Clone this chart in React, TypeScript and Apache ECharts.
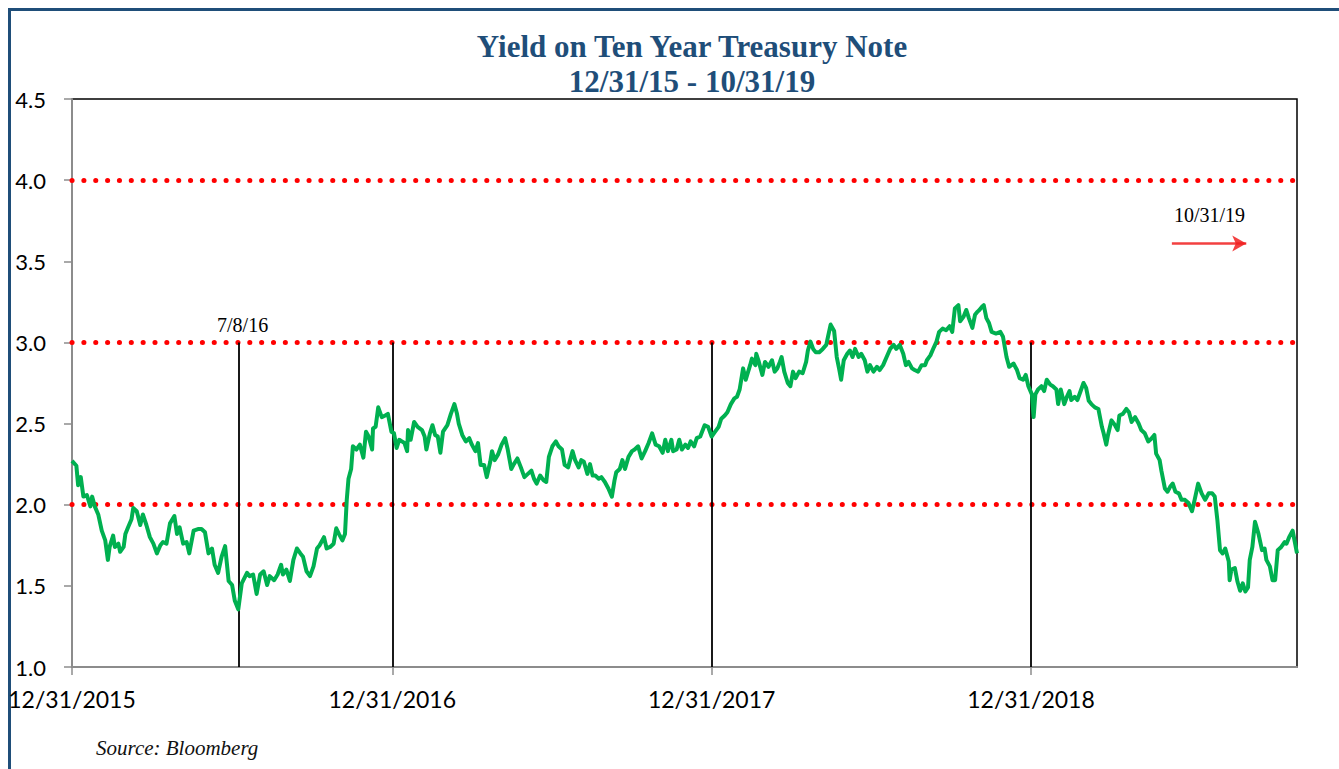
import React, { useEffect, useRef } from "react";
import * as echarts from "echarts";

const TITLE_LINE1 = "Yield on Ten Year Treasury Note";
const TITLE_LINE2 = "12/31/15 - 10/31/19";
const SOURCE = "Source: Bloomberg";

// x values are days since 12/31/2015
const X_MAX_DAY = 1400; // 10/31/2019
const xTickDays = [0, 366, 731, 1096];
const xTickLabels = ["12/31/2015", "12/31/2016", "12/31/2017", "12/31/2018"];
const refLevels = [2.0, 3.0, 4.0];
const markerDays = [190, 366, 731, 1096];
const annotations = [
  { label: "7/8/16", day: 195, value: 3.11 },
  { label: "10/31/19", day: 1300, value: 3.785 },
];
const arrowFrom = [1257, 3.61];
const arrowTo = [1342, 3.61];

const days = [
  0, 5, 7, 10, 13, 17, 21, 23, 26, 30, 34, 38, 41, 43, 47, 49, 53, 55, 59, 61,
  64, 68, 70, 74, 78, 81, 85, 89, 93, 97, 101, 104, 108, 112, 117, 120, 123, 127, 131, 134,
  139, 144, 148, 152, 156, 160, 163, 167, 171, 175, 179, 183, 186, 190, 194, 200, 203, 207, 211, 215,
  219, 223, 226, 231, 235, 239, 241, 245, 249, 253, 257, 261, 264, 268, 272, 276, 280, 283, 288, 291,
  295, 299, 302, 305, 309, 312, 314, 316, 319, 321, 325, 329, 333, 336, 339, 343, 344, 347, 350, 354,
  358, 361, 365, 368, 371, 374, 377, 380, 383, 384, 387, 391, 395, 400, 403, 405, 409, 412, 415, 418,
  421, 424, 429, 433, 437, 440, 442, 446, 450, 454, 457, 461, 464, 467, 471, 474, 478, 480, 483, 487,
  491, 495, 498, 502, 505, 509, 513, 517, 521, 525, 528, 531, 535, 539, 542, 545, 549, 553, 556, 560,
  563, 567, 572, 575, 579, 582, 585, 589, 592, 595, 598, 602, 605, 609, 613, 617, 620, 622, 626, 629,
  632, 636, 640, 643, 647, 651, 655, 659, 663, 667, 671, 675, 678, 681, 685, 687, 691, 694, 697, 701,
  704, 707, 711, 714, 718, 723, 727, 731, 735, 739, 742, 746, 749, 753, 757, 760, 763, 767, 770, 775,
  777, 781, 782, 785, 789, 792, 796, 800, 803, 806, 809, 811, 814, 818, 821, 824, 827, 831, 835, 839,
  841, 844, 847, 850, 854, 858, 862, 864, 867, 871, 874, 877, 879, 882, 886, 889, 892, 895, 899, 902,
  906, 909, 912, 916, 920, 923, 927, 931, 935, 939, 942, 946, 950, 953, 956, 960, 963, 967, 971, 975,
  977, 981, 985, 988, 991, 995, 999, 1003, 1006, 1009, 1013, 1015, 1019, 1022, 1025, 1029, 1032, 1035, 1037, 1040,
  1042, 1045, 1048, 1051, 1056, 1061, 1064, 1068, 1071, 1076, 1080, 1083, 1087, 1090, 1093, 1097, 1099, 1101, 1104, 1108,
  1111, 1114, 1118, 1121, 1125, 1127, 1130, 1134, 1137, 1140, 1142, 1146, 1149, 1152, 1156, 1159, 1162, 1165, 1169, 1173,
  1177, 1179, 1182, 1184, 1188, 1192, 1195, 1197, 1201, 1205, 1208, 1211, 1215, 1219, 1222, 1226, 1230, 1234, 1237, 1239,
  1243, 1245, 1249, 1252, 1255, 1258, 1261, 1265, 1268, 1272, 1276, 1280, 1283, 1287, 1291, 1295, 1299, 1303, 1306, 1309,
  1312, 1315, 1318, 1322, 1323, 1325, 1329, 1332, 1335, 1338, 1341, 1344, 1346, 1349, 1352, 1356, 1360, 1363, 1365, 1369,
  1372, 1375, 1378, 1382, 1386, 1388, 1391, 1395, 1400,
];

const yields = [
  2.27, 2.24, 2.12, 2.17, 2.05, 2.06, 1.99, 2.05, 1.99, 1.94, 1.84, 1.78, 1.66, 1.74, 1.81, 1.74, 1.76, 1.71, 1.74, 1.82,
  1.86, 1.91, 1.98, 1.96, 1.875, 1.94, 1.875, 1.8, 1.76, 1.7, 1.75, 1.77, 1.76, 1.885, 1.93, 1.82, 1.86, 1.76, 1.77, 1.7,
  1.84, 1.85, 1.85, 1.83, 1.7, 1.73, 1.63, 1.58, 1.68, 1.745, 1.53, 1.505, 1.41, 1.355, 1.515, 1.58, 1.56, 1.57, 1.45, 1.57,
  1.59, 1.505, 1.56, 1.535, 1.57, 1.63, 1.57, 1.6, 1.53, 1.66, 1.73, 1.7, 1.68, 1.59, 1.56, 1.62, 1.73, 1.75, 1.8, 1.73,
  1.74, 1.76, 1.855, 1.82, 1.78, 1.82, 2.03, 2.16, 2.22, 2.36, 2.34, 2.37, 2.29, 2.45, 2.42, 2.34, 2.47, 2.48, 2.6, 2.54,
  2.55, 2.56, 2.45, 2.44, 2.35, 2.4, 2.39, 2.38, 2.33, 2.46, 2.4, 2.51, 2.48, 2.46, 2.42, 2.34, 2.44, 2.49, 2.43, 2.42,
  2.32, 2.45, 2.49, 2.56, 2.62, 2.56, 2.5, 2.43, 2.39, 2.41, 2.37, 2.33, 2.38, 2.245, 2.245, 2.17, 2.265, 2.33, 2.275, 2.31,
  2.37, 2.41, 2.34, 2.22, 2.25, 2.285, 2.23, 2.17, 2.19, 2.21, 2.16, 2.13, 2.18, 2.15, 2.14, 2.295, 2.36, 2.39, 2.36, 2.34,
  2.245, 2.23, 2.33, 2.275, 2.23, 2.275, 2.265, 2.19, 2.25, 2.18, 2.18, 2.16, 2.17, 2.14, 2.1, 2.05, 2.15, 2.2, 2.22, 2.275,
  2.22, 2.295, 2.33, 2.34, 2.36, 2.285, 2.33, 2.38, 2.44, 2.37, 2.36, 2.32, 2.4, 2.33, 2.4, 2.33, 2.34, 2.4, 2.34, 2.37,
  2.35, 2.39, 2.36, 2.41, 2.42, 2.49, 2.48, 2.42, 2.45, 2.48, 2.53, 2.55, 2.57, 2.62, 2.655, 2.665, 2.71, 2.84, 2.77, 2.86,
  2.9, 2.86, 2.93, 2.88, 2.8, 2.88, 2.85, 2.89, 2.82, 2.84, 2.88, 2.91, 2.82, 2.75, 2.73, 2.82, 2.78, 2.82, 2.81, 2.88,
  2.95, 3.005, 2.96, 2.94, 2.94, 2.96, 2.985, 3.035, 3.11, 3.07, 2.91, 2.83, 2.77, 2.89, 2.93, 2.95, 2.91, 2.96, 2.91, 2.93,
  2.89, 2.82, 2.86, 2.82, 2.85, 2.83, 2.86, 2.91, 2.96, 2.985, 2.96, 2.985, 2.93, 2.86, 2.88, 2.84, 2.83, 2.82, 2.86, 2.86,
  2.89, 2.92, 2.97, 3.005, 3.065, 3.085, 3.075, 3.1, 3.065, 3.21, 3.23, 3.13, 3.16, 3.2, 3.15, 3.09, 3.17, 3.19, 3.2, 3.22,
  3.23, 3.15, 3.12, 3.065, 3.055, 3.065, 3.035, 2.91, 2.85, 2.87, 2.83, 2.78, 2.77, 2.8, 2.73, 2.68, 2.54, 2.68, 2.71, 2.73,
  2.7, 2.77, 2.74, 2.73, 2.71, 2.62, 2.71, 2.62, 2.665, 2.7, 2.645, 2.665, 2.645, 2.69, 2.75, 2.72, 2.64, 2.62, 2.6, 2.59,
  2.48, 2.44, 2.37, 2.43, 2.52, 2.49, 2.46, 2.55, 2.56, 2.59, 2.57, 2.51, 2.54, 2.5, 2.46, 2.44, 2.39, 2.41, 2.43, 2.315,
  2.275, 2.21, 2.1, 2.08, 2.11, 2.13, 2.08, 2.07, 2.03, 2.03, 2.01, 1.96, 2.03, 2.13, 2.07, 2.03, 2.07, 2.07, 2.05, 1.905,
  1.72, 1.7, 1.73, 1.65, 1.535, 1.6, 1.61, 1.525, 1.47, 1.515, 1.465, 1.49, 1.66, 1.74, 1.895, 1.82, 1.72, 1.73, 1.66, 1.62,
  1.535, 1.535, 1.72, 1.74, 1.77, 1.76, 1.8, 1.84, 1.7,
];

const BLUE = "#1F4E79";
const GREEN = "#00B050";
const AXIS_GRAY = "#8C8C8C";

export default function App() {
  const ref = useRef<HTMLDivElement>(null);

  useEffect(() => {
    document.body.style.margin = "0";
    if (!ref.current) return;
    const chart = echarts.init(ref.current, null, { renderer: "svg" });

    const seriesData = days.map((d, i) => [d, yields[i]]);

    const markLineData: any[] = [];
    refLevels.forEach((v) => {
      markLineData.push({
        yAxis: v,
        lineStyle: { color: "#FF0000", width: 5, type: [0.1, 11.75], cap: "round" },
      });
    });
    markerDays.forEach((d) => {
      markLineData.push([
        { coord: [d, 3.0], lineStyle: { color: "#000", width: 1.8, type: "solid" } },
        { coord: [d, 1.0] },
      ]);
    });
    markLineData.push([
      {
        coord: arrowFrom,
        symbol: "none",
        lineStyle: { color: "rgba(240,30,30,0.85)", width: 2.5, type: "solid" },
      },
      { coord: arrowTo, symbol: "arrow", symbolSize: [12, 14] },
    ]);

    const option: any = {
      animation: false,
      grid: {
        left: 72,
        top: 99,
        width: 1225,
        height: 568,
        show: true,
        borderColor: "#000",
        borderWidth: 1.5,
        backgroundColor: "transparent",
      },
      xAxis: {
        type: "value",
        min: 0,
        max: X_MAX_DAY,
        splitLine: { show: false },
        axisLine: { show: true, lineStyle: { color: AXIS_GRAY, width: 2 } },
        axisTick: {
          show: true,
          length: 8,
          customValues: xTickDays,
          lineStyle: { color: AXIS_GRAY, width: 1.5 },
        },
        axisLabel: {
          show: true,
          customValues: xTickDays,
          margin: 20,
          color: "#000",
          fontFamily: "Lato",
          fontSize: 23,
          formatter: (v: number) => {
            const idx = xTickDays.indexOf(Math.round(v));
            return idx >= 0 ? xTickLabels[idx] : "";
          },
        },
      },
      yAxis: {
        type: "value",
        min: 1,
        max: 4.5,
        interval: 0.5,
        splitLine: { show: false },
        axisLine: { show: true, lineStyle: { color: AXIS_GRAY, width: 2 } },
        axisTick: { show: true, length: 8, lineStyle: { color: AXIS_GRAY, width: 1.5 } },
        axisLabel: {
          margin: 26,
          color: "#000",
          fontFamily: "Lato",
          fontSize: 22,
          formatter: (v: number) => v.toFixed(1),
        },
      },
      graphic: [
        {
          type: "rect",
          silent: true,
          shape: { x: 9.5, y: 9.5, width: 1500, height: 900 },
          style: { fill: "none", stroke: BLUE, lineWidth: 3 },
        },
        {
          type: "text",
          x: 692,
          y: 46,
          style: {
            text: TITLE_LINE1,
            fill: BLUE,
            font: "bold 31px 'Liberation Serif', serif",
            textAlign: "center",
            textVerticalAlign: "middle",
          },
        },
        {
          type: "text",
          x: 692,
          y: 81,
          style: {
            text: TITLE_LINE2,
            fill: BLUE,
            font: "bold 31px 'Liberation Serif', serif",
            textAlign: "center",
            textVerticalAlign: "middle",
          },
        },
        {
          type: "text",
          x: 96,
          y: 748,
          style: {
            text: SOURCE,
            fill: "#111",
            font: "italic 21px 'Liberation Serif', serif",
            textAlign: "left",
            textVerticalAlign: "middle",
          },
        },
      ],
      series: [
        {
          type: "line",
          data: seriesData,
          showSymbol: false,
          symbol: "none",
          smooth: false,
          z: 3,
          lineStyle: { color: GREEN, width: 4, join: "round" },
          markLine: {
            silent: true,
            symbol: ["none", "none"],
            label: { show: false },
            emphasis: { disabled: true },
            data: markLineData,
            z: 2,
          },
          markPoint: {
            silent: true,
            symbol: "circle",
            symbolSize: 1,
            itemStyle: { color: "rgba(0,0,0,0)" },
            label: {
              show: true,
              position: "inside",
              color: "#000",
              fontFamily: "Liberation Serif",
              fontSize: 20,
              formatter: (p: any) => p.name,
            },
            data: annotations.map((a) => ({ name: a.label, coord: [a.day, a.value] })),
          },
        },
      ],
    };

    chart.setOption(option);
    return () => chart.dispose();
  }, []);

  return <div ref={ref} style={{ width: 1339, height: 769 }} />;
}
